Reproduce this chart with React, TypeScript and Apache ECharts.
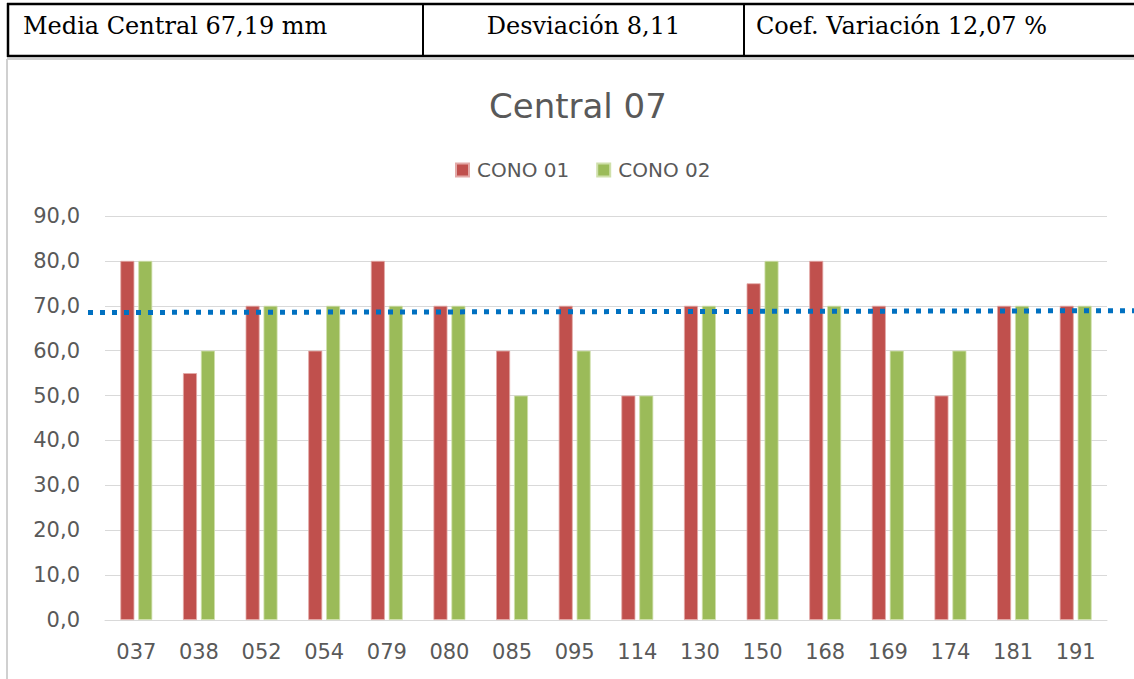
import React, { useEffect, useRef } from "react";
import * as echarts from "echarts";

const categories = ["037", "038", "052", "054", "079", "080", "085", "095", "114", "130", "150", "168", "169", "174", "181", "191"];
const cono01 = [80, 55, 70, 60, 80, 70, 60, 70, 50, 70, 75, 80, 70, 50, 70, 70];
const cono02 = [80, 60, 70, 70, 70, 70, 50, 60, 50, 70, 80, 70, 60, 60, 70, 70];
const seriesNames = ["CONO 01", "CONO 02"];
const chartTitle = "Central 07";
const tableTexts = ["Media Central 67,19 mm", "Desviación 8,11", "Coef. Variación 12,07 %"];
// hand-drawn dotted reference line (value at its left and right ends)
const meanLineValues = [68.5, 68.9];
const yMin = 0;
const yMax = 90;
const yInterval = 10;

export default function App() {
  const ref = useRef<HTMLDivElement>(null);

  useEffect(() => {
    document.body.style.margin = "0";
    const chart = echarts.init(ref.current!, null, { renderer: "svg" });
    const sans = "DejaVu Sans";
    const serif = "DejaVu Serif";
    chart.setOption({
      animation: false,
      backgroundColor: "#ffffff",
      title: {
        text: chartTitle,
        left: 484,
        top: 84,
        textStyle: { fontFamily: sans, fontSize: 34, fontWeight: "normal", color: "#595959" },
      },
      legend: {
        data: seriesNames,
        left: 450,
        top: 155,
        itemWidth: 13,
        itemHeight: 13,
        itemGap: 27,
        icon: "rect",
        textStyle: { fontFamily: sans, fontSize: 20, color: "#595959", padding: [0, 0, 0, 3] },
      },
      grid: { left: 105, right: 27, top: 216, bottom: 59, containLabel: false },
      xAxis: {
        type: "category",
        data: categories,
        axisLine: { show: true, lineStyle: { color: "#d9d9d9", width: 1 } },
        axisTick: { show: false },
        axisLabel: { fontFamily: sans, fontSize: 21, color: "#595959", margin: 21, interval: 0 },
      },
      yAxis: {
        type: "value",
        min: yMin,
        max: yMax,
        interval: yInterval,
        axisLine: { show: false },
        axisTick: { show: false },
        splitLine: { lineStyle: { color: "#d9d9d9", width: 1 } },
        axisLabel: {
          fontFamily: sans,
          fontSize: 21,
          color: "#595959",
          margin: 25,
          formatter: (v: number) => v.toFixed(1).replace(".", ","),
        },
      },
      series: [
        {
          name: seriesNames[0],
          type: "bar",
          data: cono01,
          barWidth: 14,
          barGap: "28%",
          itemStyle: { color: "#C0504D", borderColor: "#e3a9a7", borderWidth: 0.8 },
        },
        {
          name: seriesNames[1],
          type: "bar",
          data: cono02,
          barWidth: 14,
          itemStyle: { color: "#9BBB59", borderColor: "#cfe0ab", borderWidth: 0.8 },
        },
      ],
    });

    const yL = chart.convertToPixel({ yAxisIndex: 0 }, meanLineValues[0]) as number;
    const yR = chart.convertToPixel({ yAxisIndex: 0 }, meanLineValues[1]) as number;

    chart.setOption({
      graphic: [
        // chart frame (grey)
        { id: "frameTop", type: "line", shape: { x1: 7, y1: 59, x2: 1134, y2: 59 }, style: { stroke: "#d0d0d0", lineWidth: 2 }, z: 1 },
        { id: "frameLeft", type: "line", shape: { x1: 7, y1: 59, x2: 7, y2: 679 }, style: { stroke: "#d0d0d0", lineWidth: 2 }, z: 1 },
        // table
        { id: "tTop", type: "line", shape: { x1: 7, y1: 4, x2: 1134, y2: 4 }, style: { stroke: "#000", lineWidth: 2.5 }, z: 2 },
        { id: "tBottom", type: "line", shape: { x1: 7, y1: 56, x2: 1134, y2: 56 }, style: { stroke: "#000", lineWidth: 2.5 }, z: 2 },
        { id: "tLeft", type: "line", shape: { x1: 8, y1: 3, x2: 8, y2: 57 }, style: { stroke: "#000", lineWidth: 2.5 }, z: 2 },
        { id: "tDiv1", type: "line", shape: { x1: 423, y1: 4, x2: 423, y2: 56 }, style: { stroke: "#000", lineWidth: 2 }, z: 2 },
        { id: "tDiv2", type: "line", shape: { x1: 744, y1: 4, x2: 744, y2: 56 }, style: { stroke: "#000", lineWidth: 2 }, z: 2 },
        {
          id: "t1", type: "text", x: 23, y: 26, z: 2,
          style: { text: tableTexts[0], fontFamily: serif, fontSize: 24, fill: "#000", align: "left", verticalAlign: "middle" },
        },
        {
          id: "t2", type: "text", x: 583.5, y: 26, z: 2,
          style: { text: tableTexts[1], fontFamily: serif, fontSize: 24, fill: "#000", align: "center", verticalAlign: "middle" },
        },
        {
          id: "t3", type: "text", x: 756, y: 26, z: 2,
          style: { text: tableTexts[2], fontFamily: serif, fontSize: 24, fill: "#000", align: "left", verticalAlign: "middle" },
        },
        // dotted reference line
        {
          id: "meanLine", type: "line", z: 100,
          shape: { x1: 88, y1: yL, x2: 1140, y2: yR },
          style: { stroke: "#0070C0", lineWidth: 5, lineDash: [5, 7], lineCap: "butt" },
        },
      ],
    });

    return () => chart.dispose();
  }, []);

  return (
    <div
      ref={ref}
      style={{ position: "absolute", left: 0, top: 0, width: 1134, height: 679, background: "#fff" }}
    />
  );
}
